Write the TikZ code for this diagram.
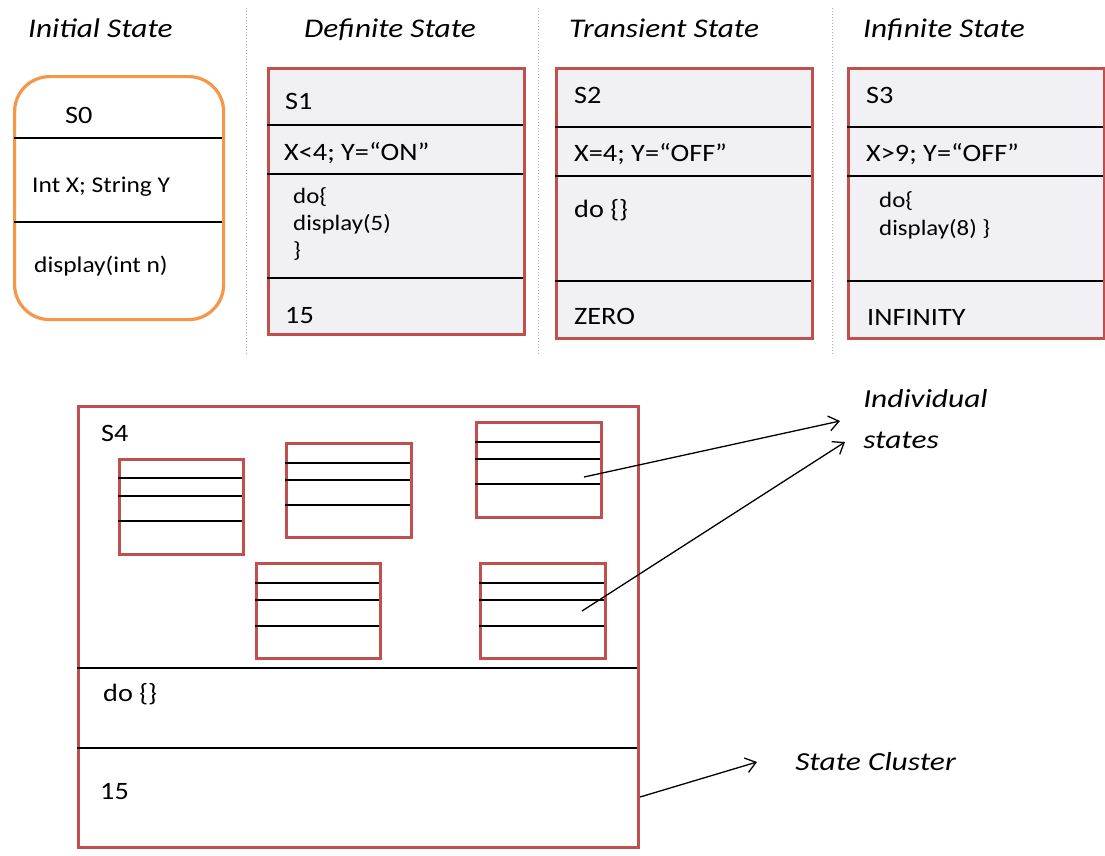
\documentclass[tikz,border=0pt]{standalone}
\usepackage{fontspec}
\setmainfont{Carlito}
\usetikzlibrary{arrows.meta}
\definecolor{boxred}{HTML}{C0504D}
\definecolor{boxorange}{HTML}{F79646}
\definecolor{boxfill}{HTML}{F0F0F5}
\definecolor{divgray}{HTML}{AAAAAA}
\tikzset{
  statebox/.style={draw=boxred, line width=3.2pt, fill=boxfill, anchor=north west, inner sep=0pt},
  whitebox/.style={draw=boxred, line width=2.8pt, fill=white, anchor=north west, inner sep=0pt},
  initbox/.style={draw=boxorange, line width=3.2pt, fill=white, rounded corners=35pt, anchor=north west, inner sep=0pt},
  sepline/.style={draw=black, line width=2.3pt},
  basetext/.style={anchor=base west, inner sep=0pt},
  lbl/.style={basetext, xscale=1.13, font=\fontsize{25}{30}\selectfont},
  smalllbl/.style={basetext, xscale=1.13, font=\fontsize{22.5}{27}\selectfont},
  codelbl/.style={basetext, xscale=1.13, font=\fontsize{22}{27}\selectfont},
  titlelbl/.style={basetext, xscale=1.16, font=\fontsize{27}{32}\selectfont\itshape},
  notelbl/.style={basetext, xscale=1.21, font=\fontsize{26}{31}\selectfont\itshape},
  divider/.style={draw=divgray, line width=1pt, dotted},
  pointer/.style={draw=black, line width=1.3pt, -{Straight Barb[length=10pt, width=15pt, line width=1.3pt]}},
}
\begin{document}
\begin{tikzpicture}[x=1pt, y=-1pt]
\useasboundingbox[fill=white] (0,0) rectangle (1105,855);

% dividers
\draw[divider] (246,8) -- (246,355);
\draw[divider] (538,8) -- (538,355);
\draw[divider] (832,8) -- (832,355);

% titles
\node[titlelbl] (t0) at (28,37) {Initial State};
\node[titlelbl] (t1) at (304,37) {Definite State};
\node[titlelbl] (t2) at (569,37) {Transient State};
\node[titlelbl] (t3) at (863,37) {Infinite State};

% S0
\node[initbox, minimum width=209pt, minimum height=243pt] (s0) at (13,75) {};
\draw[sepline] (14,138) -- (222,138);
\draw[sepline] (14,222) -- (222,222);
\node[lbl] (s0n) at (65,123) {S0};
\node[smalllbl] (s0a) at (32,192) {Int X; String Y};
\node[smalllbl] (s0b) at (34,272) {display(int n)};

% S1
\node[statebox, minimum width=256pt, minimum height=266pt] (s1) at (267,67) {};
\draw[sepline] (267,125) -- (523,125);
\draw[sepline] (267,174) -- (523,174);
\draw[sepline] (267,278) -- (523,278);
\node[lbl] (s1n) at (285,109) {S1};
\node[lbl] (s1a) at (284,160) {X<4; Y=“ON”};
\node[codelbl] (s1b) at (293,203) {do\{};
\node[codelbl] (s1c) at (293,230) {display(5)};
\node[codelbl] (s1d) at (293,257) {\}};
\node[lbl] (s1e) at (285,323) {15};

% S2
\node[statebox, minimum width=256pt, minimum height=270pt] (s2) at (555,67) {};
\draw[sepline] (555,127) -- (811,127);
\draw[sepline] (555,176) -- (811,176);
\draw[sepline] (555,281) -- (811,281);
\node[lbl] (s2n) at (574,103) {S2};
\node[lbl] (s2a) at (574,161) {X=4; Y=“OFF”};
\node[lbl] (s2b) at (574,217) {do \{\}};
\node[lbl] (s2e) at (574,324) {ZERO};

% S3
\node[statebox, minimum width=256pt, minimum height=270pt] (s3) at (847,67) {};
\draw[sepline] (847,127) -- (1103,127);
\draw[sepline] (847,176) -- (1103,176);
\draw[sepline] (847,281) -- (1103,281);
\node[lbl] (s3n) at (866,103) {S3};
\node[lbl] (s3a) at (866,161) {X>9; Y=“OFF”};
\node[codelbl] (s3b) at (879,207) {do\{};
\node[codelbl] (s3c) at (879,235) {display(8) \}};
\node[lbl] (s3e) at (867,325) {INFINITY};

% S4 cluster
\node[whitebox, minimum width=560pt, minimum height=441pt] (s4) at (77,405) {};
\draw[sepline] (77,668) -- (637,668);
\draw[sepline] (77,748) -- (637,748);
\node[lbl] (s4n) at (101,441) {S4};
\node[lbl] (s4b) at (103,701) {do \{\}};
\node[lbl] (s4e) at (100,799) {15};

% individual states
\node[whitebox, minimum width=124pt, minimum height=95pt] (b1) at (118,458) {};
\draw[sepline] (118,478) -- (242,478);
\draw[sepline] (118,496) -- (242,496);
\draw[sepline] (118,521) -- (242,521);

\node[whitebox, minimum width=125pt, minimum height=94pt] (b2) at (285,442) {};
\draw[sepline] (285,463) -- (410,463);
\draw[sepline] (285,480) -- (410,480);
\draw[sepline] (285,505) -- (410,505);

\node[whitebox, minimum width=125pt, minimum height=95pt] (b3) at (475,421) {};
\draw[sepline] (475,442) -- (600,442);
\draw[sepline] (475,459) -- (600,459);
\draw[sepline] (475,484) -- (600,484);

\node[whitebox, minimum width=124pt, minimum height=95pt] (b4) at (255,562) {};
\draw[sepline] (255,583) -- (379,583);
\draw[sepline] (255,600) -- (379,600);
\draw[sepline] (255,626) -- (379,626);

\node[whitebox, minimum width=125pt, minimum height=95pt] (b5) at (479,562) {};
\draw[sepline] (479,583) -- (604,583);
\draw[sepline] (479,600) -- (604,600);
\draw[sepline] (479,626) -- (604,626);

% annotations
\node[notelbl] (ind1) at (863,407) {Individual};
\node[notelbl] (ind2) at (863,448) {states};
\node[notelbl] (clu) at (795,770) {State Cluster};

\coordinate (a1s) at (584,477);
\coordinate (a1e) at (840,421);
\coordinate (a2s) at (582,611);
\coordinate (a2e) at (845,442);
\coordinate (a3s) at (640,797);
\coordinate (a3e) at (757,762);
\draw[pointer] (a1s) -- (a1e);
\draw[pointer] (a2s) -- (a2e);
\draw[pointer] (a3s) -- (a3e);
\end{tikzpicture}
\end{document}
